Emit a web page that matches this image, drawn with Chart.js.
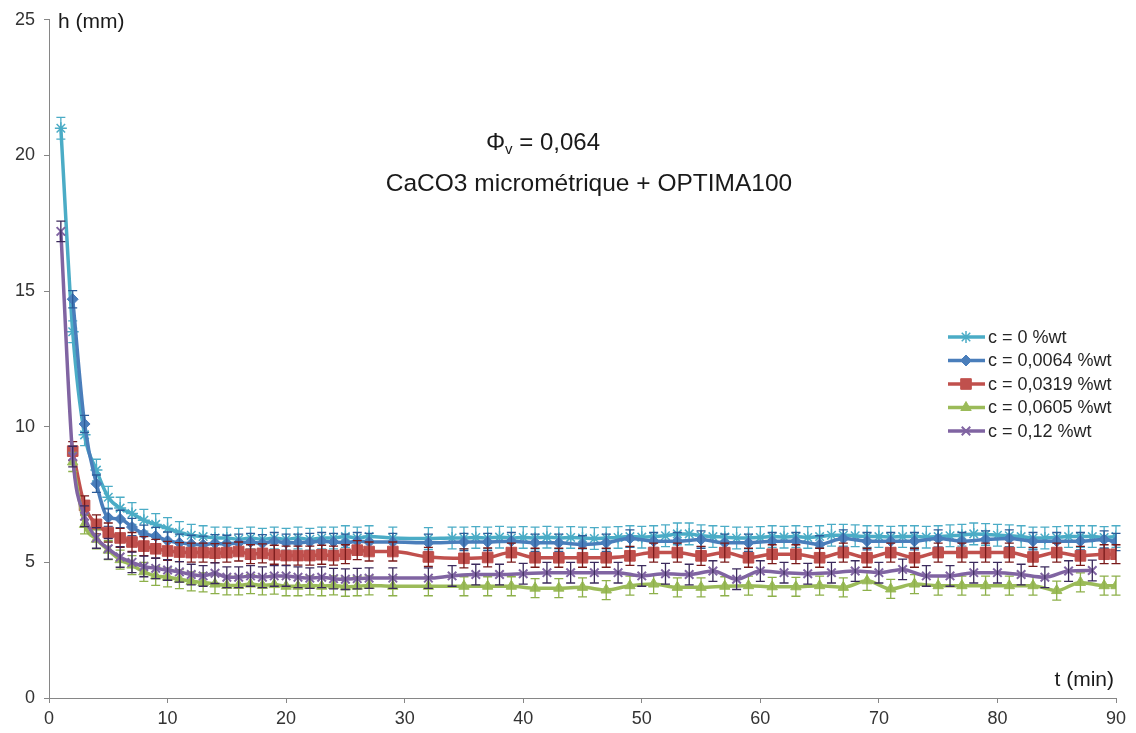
<!DOCTYPE html>
<html><head><meta charset="utf-8">
<script src="https://cdn.jsdelivr.net/npm/chart.js@4.4.0/dist/chart.umd.min.js"></script>
<style>html,body{margin:0;padding:0;background:#fff;}#wrap{width:1136px;height:733px;position:relative;}</style>
</head><body><div id="wrap"><canvas id="c" width="1136" height="733"></canvas></div>
<script>
// ---------- DATA ----------
const seriesLabels = ['c = 0 %wt', 'c = 0,0064 %wt', 'c = 0,0319 %wt', 'c = 0,0605 %wt', 'c = 0,12 %wt'];
const xTicks = [0, 10, 20, 30, 40, 50, 60, 70, 80, 90];
const yTicks = [0, 5, 10, 15, 20, 25];

const tC0 = [1,2,3,4,5,6,7,8,9,10,11,12,13,14,15,16,17,18,19,20,21,22,23,24,25,26,27,29,32,
  34,35,36,37,38,39,40,41,42,43,44,45,46,47,48,49,50,51,52,53,54,55,56,57,58,59,60,61,62,63,64,65,66,67,68,69,70,71,72,73,74,75,76,77,78,79,80,81,82,83,84,85,86,87,88,89,90];
const hC0 = [21.0,13.5,9.7,8.4,7.4,7.0,6.8,6.55,6.4,6.25,6.1,6.0,5.95,5.9,5.9,5.85,5.9,5.85,5.9,5.85,5.9,5.85,5.9,5.9,5.95,5.9,5.95,5.9,5.88,
  5.9,5.9,5.92,5.9,5.93,5.9,5.92,5.9,5.93,5.9,
  5.92,5.9,5.88,5.9,5.92,5.95,5.93,5.95,5.98,6.05,
  6.05,5.98,5.95,5.93,5.9,5.9,5.92,5.95,5.93,5.95,
  5.92,5.95,6.0,6.0,5.98,5.95,5.95,5.93,5.95,5.95,
  5.93,5.95,5.98,6.0,6.05,6.03,6.0,5.98,5.95,5.9,
  5.9,5.92,5.95,5.95,5.95,5.92,5.95];

const tOdd = [2,3,4,5,6,7,8,9,10,11,12,13,14,15,16,17,18,19,20,21,22,23,24,25,26,27,29,32,
  35,37,39,41,43,45,47,49,51,53,55,57,59,61,63,65,67,69,71,73,75,77,79,81,83,85,87,89,90];
const hC1 = [14.7,10.1,7.9,6.65,6.6,6.3,6.05,5.97,5.8,5.72,5.68,5.65,5.7,5.68,5.72,5.75,5.7,5.78,5.72,5.72,5.75,5.78,5.75,5.72,5.78,5.75,5.75,5.72,
  5.75,5.75,5.78,5.72,5.72,5.66,5.72,5.88,5.78,5.78,5.84,5.72,5.72,5.78,5.78,5.66,5.88,5.78,5.78,5.78,5.88,5.78,5.84,5.88,5.78,5.78,5.78,5.84,5.75];
const hC2 = [9.1,7.1,6.4,6.1,5.9,5.75,5.6,5.5,5.42,5.38,5.36,5.36,5.34,5.36,5.4,5.3,5.33,5.28,5.25,5.25,5.25,5.28,5.25,5.3,5.45,5.4,5.4,5.2,
  5.15,5.18,5.36,5.17,5.17,5.17,5.17,5.24,5.36,5.36,5.24,5.36,5.17,5.3,5.3,5.17,5.36,5.17,5.36,5.17,5.36,5.36,5.36,5.36,5.2,5.36,5.24,5.3,5.3];
const hC3 = [8.7,6.4,5.85,5.45,5.1,4.9,4.65,4.5,4.45,4.38,4.3,4.26,4.2,4.15,4.15,4.2,4.15,4.18,4.12,4.12,4.15,4.12,4.15,4.1,4.12,4.15,4.12,4.12,
  4.12,4.12,4.12,4.05,4.05,4.08,3.98,4.14,4.2,4.08,4.08,4.12,4.14,4.1,4.1,4.14,4.08,4.32,4.02,4.2,4.14,4.14,4.14,4.14,4.14,3.96,4.26,4.14,4.14];

const tC4 = [1,2,3,4,5,6,7,8,9,10,11,12,13,14,15,16,17,18,19,20,21,22,23,24,25,26,27,29,32,
  34,36,38,40,42,44,46,48,50,52,54,56,58,60,62,64,66,68,70,72,74,76,78,80,82,84,86,88];
const hC4 = [17.2,8.9,6.7,5.9,5.5,5.2,5.0,4.85,4.78,4.72,4.65,4.55,4.5,4.6,4.45,4.45,4.5,4.45,4.5,4.5,4.45,4.42,4.45,4.4,4.38,4.4,4.42,4.42,4.42,
  4.5,4.55,4.55,4.58,4.62,4.62,4.62,4.62,4.5,4.58,4.55,4.68,4.38,4.68,4.62,4.58,4.62,4.68,4.62,4.74,4.5,4.5,4.62,4.62,4.55,4.45,4.68,4.7];

// error bar half-widths (± h, mm) per series
const seriesErr = [0.4, 0.32, 0.35, 0.35, 0.38];

// ---------- STYLE ----------
const lineColors = ['#4BACC6', '#4A7EBB', '#C0504D', '#9BBB59', '#8064A2'];
const errColors  = ['#4BACC6', '#2C5D9A', '#7A1A1A', '#8DB04A', '#3B2A5C'];
const pStyles = ['star', 'rectRot', 'rect', 'triangle', 'crossRot'];
const pRadius = [6, 5.5, 7.5, 6, 6];
const pBorder = [1.5, 1, 1, 1, 2];

const xs = [tC0, tOdd, tOdd, tOdd, tC4];
const hs = [hC0, hC1, hC2, hC3, hC4];

const datasets = hs.map((h, k) => ({
  label: seriesLabels[k],
  data: h.map((v, i) => ({x: xs[k][i], y: v})),
  borderColor: lineColors[k],
  backgroundColor: lineColors[k],
  pointStyle: pStyles[k],
  pointRadius: pRadius[k],
  pointBorderWidth: pBorder[k],
  pointBorderColor: lineColors[k],
  pointBackgroundColor: lineColors[k],
  borderWidth: 3.5,
  cubicInterpolationMode: 'monotone',
  order: 4 - k,
  errIndex: k
}));

const FONT = '"Liberation Sans", Arial, sans-serif';

const errorBars = {
  id: 'errorBars',
  afterDatasetDraw(chart, args) {
    const ctx = chart.ctx;
    const k = chart.data.datasets[args.index].errIndex;
    const yS = chart.scales.y;
    const err = seriesErr[k];
    ctx.save();
    ctx.strokeStyle = errColors[k];
    ctx.lineWidth = 1.3;
    args.meta.data.forEach((pt, i) => {
      const v = hs[k][i];
      const yt = yS.getPixelForValue(v + err);
      const yb = yS.getPixelForValue(v - err);
      const x = pt.x;
      ctx.beginPath();
      ctx.moveTo(x, yt); ctx.lineTo(x, yb);
      ctx.moveTo(x - 4.5, yt); ctx.lineTo(x + 4.5, yt);
      ctx.moveTo(x - 4.5, yb); ctx.lineTo(x + 4.5, yb);
      ctx.stroke();
    });
    ctx.restore();
  }
};

const decorations = {
  id: 'decorations',
  afterDraw(chart) {
    const ctx = chart.ctx;
    ctx.save();
    ctx.fillStyle = '#1a1a1a';
    ctx.textBaseline = 'middle';
    // axis titles
    ctx.font = '21px ' + FONT;
    ctx.textAlign = 'left';
    ctx.fillText('h (mm)', 58, 22);
    ctx.textAlign = 'right';
    ctx.fillText('t (min)', 1114, 680);
    // title line 1 with subscript
    const big = '24px ' + FONT, small = '15px ' + FONT;
    ctx.font = big; const w1 = ctx.measureText('Φ').width;
    ctx.font = small; const w2 = ctx.measureText('v').width;
    ctx.font = big; const w3 = ctx.measureText(' = 0,064').width;
    let x0 = 543 - (w1 + w2 + w3) / 2;
    ctx.textAlign = 'left';
    ctx.font = big; ctx.fillText('Φ', x0, 143);
    ctx.font = small; ctx.fillText('v', x0 + w1, 150);
    ctx.font = big; ctx.fillText(' = 0,064', x0 + w1 + w2, 143);
    // subtitle
    ctx.textAlign = 'center';
    ctx.font = '24.5px ' + FONT;
    ctx.fillText('CaCO3 micrométrique + OPTIMA100', 589, 184);
    // legend
    ctx.font = '18px ' + FONT;
    ctx.textAlign = 'left';
    for (let k = 0; k < seriesLabels.length; k++) {
      const y = 337 + k * 23.5;
      ctx.strokeStyle = lineColors[k];
      ctx.lineWidth = 3.5;
      ctx.beginPath(); ctx.moveTo(948, y); ctx.lineTo(985, y); ctx.stroke();
      ctx.fillStyle = lineColors[k];
      ctx.lineWidth = pBorder[k];
      if (Chart.helpers && Chart.helpers.drawPoint) {
        Chart.helpers.drawPoint(ctx, {pointStyle: pStyles[k], radius: pRadius[k], borderWidth: pBorder[k], rotation: 0}, 966, y);
      }
      ctx.fillStyle = '#262626';
      ctx.fillText(seriesLabels[k], 988, y + 1);
    }
    ctx.restore();
  }
};

new Chart(document.getElementById('c'), {
  type: 'line',
  data: { datasets },
  options: {
    responsive: false,
    animation: false,
    devicePixelRatio: 1,
    layout: { padding: { top: 15, right: 20, left: 0, bottom: 0 } },
    plugins: { legend: { display: false }, tooltip: { enabled: false } },
    scales: {
      x: {
        type: 'linear', min: 0, max: 90,
        afterBuildTicks: s => { s.ticks = xTicks.map(v => ({value: v})); },
        afterFit: s => { s.height = 35; },
        ticks: { font: { family: FONT, size: 18 }, color: '#333', padding: 5, maxRotation: 0 },
        grid: { drawOnChartArea: false, drawTicks: true, tickLength: 5, color: '#868686' },
        border: { color: '#868686', width: 1 }
      },
      y: {
        type: 'linear', min: 0, max: 25,
        afterBuildTicks: s => { s.ticks = yTicks.map(v => ({value: v})); },
        afterFit: s => { s.width = 49; },
        ticks: { font: { family: FONT, size: 18 }, color: '#333', padding: 9 },
        grid: { drawOnChartArea: false, drawTicks: true, tickLength: 5, color: '#868686' },
        border: { color: '#868686', width: 1 }
      }
    }
  },
  plugins: [errorBars, decorations]
});
</script>
</body></html>
